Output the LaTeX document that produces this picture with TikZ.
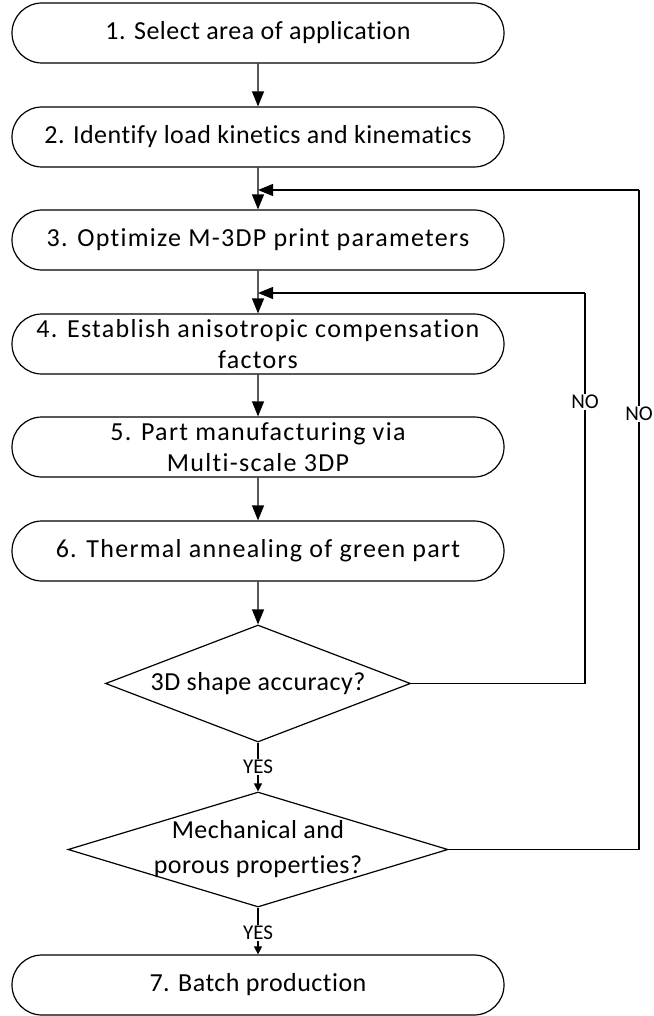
\documentclass[tikz,border=0pt]{standalone}
\usepackage{fontspec}
\setmainfont{Carlito}[Ligatures=CommonOff]
\usetikzlibrary{arrows.meta,shapes.misc,shapes.geometric}
\newcommand\tracka{\addfontfeatures{LetterSpace=1.8}}
\newcommand\trackb{\addfontfeatures{LetterSpace=5}}
\begin{document}
\begin{tikzpicture}[x=1pt,y=-1pt,
 proc/.style={draw, line width=1.2pt, rounded rectangle, minimum width=492pt, minimum height=60pt, inner sep=0pt, font=\fontsize{26}{31}\selectfont, align=center},
 dec/.style={draw, line width=1.2pt, diamond, inner sep=0pt},
 txt/.style={font=\fontsize{26}{35}\selectfont\tracka, align=center},
 lab/.style={fill=white, inner sep=1.5pt, font=\fontsize{21}{23}\selectfont},
 flow/.style={line width=1.2pt, -{Triangle[length=15pt,width=12pt]}},
 smallflow/.style={line width=1.2pt, -{Triangle[length=8pt,width=8pt]}},
 plain/.style={line width=1.2pt}]
\useasboundingbox (0,0) rectangle (653,1016);

\node[proc] (b1) at (258,33) {\tracka 1. Select area of application};
\node[proc] (b2) at (258,137) {\tracka 2. Identify load kinetics and kinematics};
\node[proc] (b3) at (258,240) {\trackb 3. Optimize M-3DP print parameters};
\node[proc] (b4) at (258,344) {\trackb 4. Establish anisotropic compensation\\\trackb factors};
\node[proc] (b5) at (258,447) {\trackb 5. Part manufacturing via\\\trackb Multi-scale 3DP};
\node[proc] (b6) at (258,551) {\trackb 6. Thermal annealing of green part};
\node[dec, minimum width=305pt, minimum height=117pt] (d1) at (258,683.5) {};
\node[txt] (t1) at (d1) {3D shape accuracy?};
\node[dec, minimum width=380pt, minimum height=115pt] (d2) at (258,849.5) {};
\node[txt] (t2) at (d2) {Mechanical and\\\tracka porous properties?};
\node[proc] (b7) at (258,985) {\tracka 7. Batch production};

\coordinate (j1) at (258,190);
\coordinate (j2) at (258,293);
\coordinate (r1) at (639,190);
\coordinate (r2) at (585,293);

\draw[flow] (b1) -- (b2);
\draw[flow] (b2) -- (b3);
\draw[flow] (b3) -- (b4);
\draw[flow] (b4) -- (b5);
\draw[flow] (b5) -- (b6);
\draw[flow] (b6) -- (d1);
\draw[smallflow] (d1.south) -- (d2.north);
\draw[smallflow] (d2.south) -- (b7.north);
\draw[plain] (d1.east) -| (r2);
\draw[flow] (r2) -- (j2);
\draw[plain] (d2.east) -| (r1);
\draw[flow] (r1) -- (j1);

\node[lab] (y1) at (258,767) {YES};
\node[lab] (y2) at (258,933) {YES};
\node[lab] (n1) at (585,402) {NO};
\node[lab] (n2) at (639,414) {NO};
\end{tikzpicture}
\end{document}
